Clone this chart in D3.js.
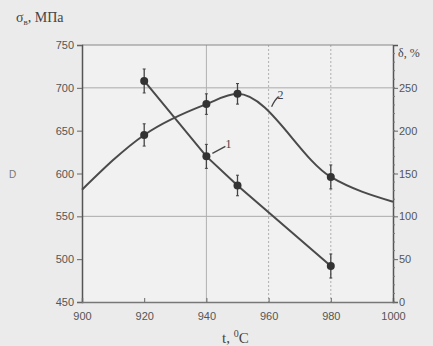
<!DOCTYPE html>
<html>
<head>
<meta charset="utf-8">
<script src="https://cdn.jsdelivr.net/npm/d3@7"></script>
<style>
  body { margin: 0; background: #ebebeb; }
  svg { display: block; }
  .tick text { font-family: "Liberation Sans", Arial, sans-serif; font-size: 11px; fill: #555; }
  .lbl { font-family: "Liberation Serif", "Times New Roman", serif; fill: #444; }
</style>
</head>
<body>
<div id="chart"></div>
<script>
// temperature, strength (curve 1), elongation (curve 2)
var temps1 = [920, 940, 950, 980];
var sigma = [708, 620, 586, 492];
var sigmaErr = [14, 14, 12, 14];

var temps2 = [900, 920, 940, 950, 980, 1000];
var delta = [131, 195, 231, 243, 146, 117];
var deltaErr = [0, 13, 12, 12, 14, 0];

var xTicks = [900, 920, 940, 960, 980, 1000];
var yTicks = [450, 500, 550, 600, 650, 700, 750];
var y2Ticks = [0, 50, 100, 150, 200, 250];

var svgWidth = 433;
var svgHeight = 346;
var margin = { top: 45, bottom: 44, left: 82, right: 40 };
var width = svgWidth - margin.left - margin.right;
var height = svgHeight - margin.top - margin.bottom;

var svg = d3.select("#chart").append("svg")
    .attr("width", svgWidth)
    .attr("height", svgHeight);

var chartGroup = svg.append("g")
    .attr("transform", `translate(${margin.left}, ${margin.top})`);

var x = d3.scaleLinear().domain([900, 1000]).range([0, width]);
var y = d3.scaleLinear().domain([450, 750]).range([height, 0]);
var y2 = d3.scaleLinear().domain([0, 300]).range([height, 0]);

// plot background
chartGroup.append("rect")
    .attr("width", width).attr("height", height)
    .attr("fill", "#f1f1f1");

// grid lines
[700, 550].forEach(function (v) {
    chartGroup.append("line")
        .attr("x1", 0).attr("x2", width)
        .attr("y1", y(v)).attr("y2", y(v))
        .attr("stroke", "#aaa").attr("stroke-width", 1);
});
[940, 960, 980].forEach(function (v, i) {
    chartGroup.append("line")
        .attr("x1", x(v)).attr("x2", x(v))
        .attr("y1", 0).attr("y2", height)
        .attr("stroke", "#b0b0b0").attr("stroke-width", 1)
        .attr("stroke-dasharray", i == 0 ? null : "2,2");
});

// top border
chartGroup.append("line")
    .attr("x1", 0).attr("x2", width).attr("y1", 0).attr("y2", 0)
    .attr("stroke", "#888").attr("stroke-width", 1.2);

// axes
var leftAxis = d3.axisLeft(y).tickValues(yTicks).tickSize(5).tickPadding(3);
var bottomAxis = d3.axisBottom(x).tickValues(xTicks).tickSize(-4).tickPadding(10)
    .tickFormat(d3.format("d"));
var rightAxis = d3.axisRight(y2).tickValues(y2Ticks).tickSize(5).tickPadding(1);

var yAxis = chartGroup.append("g").call(leftAxis);
var xAxis = chartGroup.append("g")
    .attr("transform", `translate(0, ${height})`)
    .call(bottomAxis);
var y2Axis = chartGroup.append("g")
    .attr("transform", `translate(${width}, 0)`)
    .call(rightAxis);

// minor ticks on right axis
var minor = d3.range(0, 300, 10);
y2Axis.selectAll(".minor").data(minor).enter().append("line")
    .attr("x1", 0).attr("x2", 2)
    .attr("y1", d => y2(d)).attr("y2", d => y2(d))
    .attr("stroke", "#777");

[yAxis, xAxis, y2Axis].forEach(function (a) {
    a.select(".domain").attr("stroke", "#555").attr("stroke-width", 1.5);
    a.selectAll(".tick line").attr("stroke", "#666");
});
xAxis.select(".domain").attr("stroke", "#777");

// curve 1: strength, straight segments
var line1 = d3.line()
    .x((d, i) => x(temps1[i]))
    .y(d => y(d));
chartGroup.append("path")
    .attr("d", line1(sigma))
    .attr("fill", "none").attr("stroke", "#4a4a4a").attr("stroke-width", 2);

// curve 2: elongation, smooth
var line2 = d3.line()
    .x((d, i) => x(temps2[i]))
    .y(d => y2(d))
    .curve(d3.curveMonotoneX);
chartGroup.append("path")
    .attr("d", line2(delta))
    .attr("fill", "none").attr("stroke", "#4a4a4a").attr("stroke-width", 2);

// markers with error bars
function drawPoints(xs, vals, errs, scale) {
    vals.forEach(function (v, i) {
        if (!errs[i]) return;
        var cx = x(xs[i]);
        var g = chartGroup.append("g");
        g.append("line")
            .attr("x1", cx).attr("x2", cx)
            .attr("y1", scale(v - errs[i])).attr("y2", scale(v + errs[i]))
            .attr("stroke", "#444").attr("stroke-width", 1.3);
        [v - errs[i], v + errs[i]].forEach(function (e) {
            g.append("line")
                .attr("x1", cx - 1.5).attr("x2", cx + 1.5)
                .attr("y1", scale(e)).attr("y2", scale(e))
                .attr("stroke", "#444").attr("stroke-width", 1);
        });
        g.append("circle")
            .attr("cx", cx).attr("cy", scale(v)).attr("r", 4)
            .attr("fill", "#333");
    });
}
drawPoints(temps1, sigma, sigmaErr, y);
drawPoints(temps2, delta, deltaErr, y2);

// curve labels with leaders
chartGroup.append("path")
    .attr("d", `M${x(940) + 6},${y(620) - 3} L${x(940) + 19},${y(620) - 10}`)
    .attr("stroke", "#444").attr("stroke-width", 1.3).attr("fill", "none");
chartGroup.append("text")
    .attr("class", "lbl")
    .attr("x", x(940) + 19).attr("y", y(620) - 8)
    .attr("font-size", 12)
    .text("1");

chartGroup.append("path")
    .attr("d", `M${x(960) + 3},${y2(228)} Q${x(960) + 6},${y2(236)} ${x(960) + 10},${y2(240)}`)
    .attr("stroke", "#444").attr("stroke-width", 1.3).attr("fill", "none");
chartGroup.append("text")
    .attr("class", "lbl")
    .attr("x", x(960) + 9).attr("y", y2(237))
    .attr("font-size", 12)
    .text("2");

// axis titles
var yTitle = svg.append("text").attr("class", "lbl")
    .attr("x", 16).attr("y", 22).attr("font-size", 14);
yTitle.append("tspan").text("σ");
yTitle.append("tspan").attr("dy", 3).attr("font-size", 9).text("в");
yTitle.append("tspan").attr("dy", -3).text(", МПа");

svg.append("text").attr("class", "lbl")
    .attr("x", 398).attr("y", 57).attr("font-size", 12)
    .attr("font-family", "Liberation Sans, Arial, sans-serif")
    .text("δ, %");

var xTitle = svg.append("text").attr("class", "lbl")
    .attr("x", 222).attr("y", 343).attr("font-size", 15);
xTitle.append("tspan").text("t, ");
xTitle.append("tspan").attr("dy", -6).attr("font-size", 10).text("0");
xTitle.append("tspan").attr("dy", 6).text("C");

// stray mark at left
svg.append("text")
    .attr("x", 9).attr("y", 178).attr("font-size", 10)
    .attr("font-family", "Liberation Sans, Arial, sans-serif")
    .attr("fill", "#777")
    .text("D");
</script>
</body>
</html>
